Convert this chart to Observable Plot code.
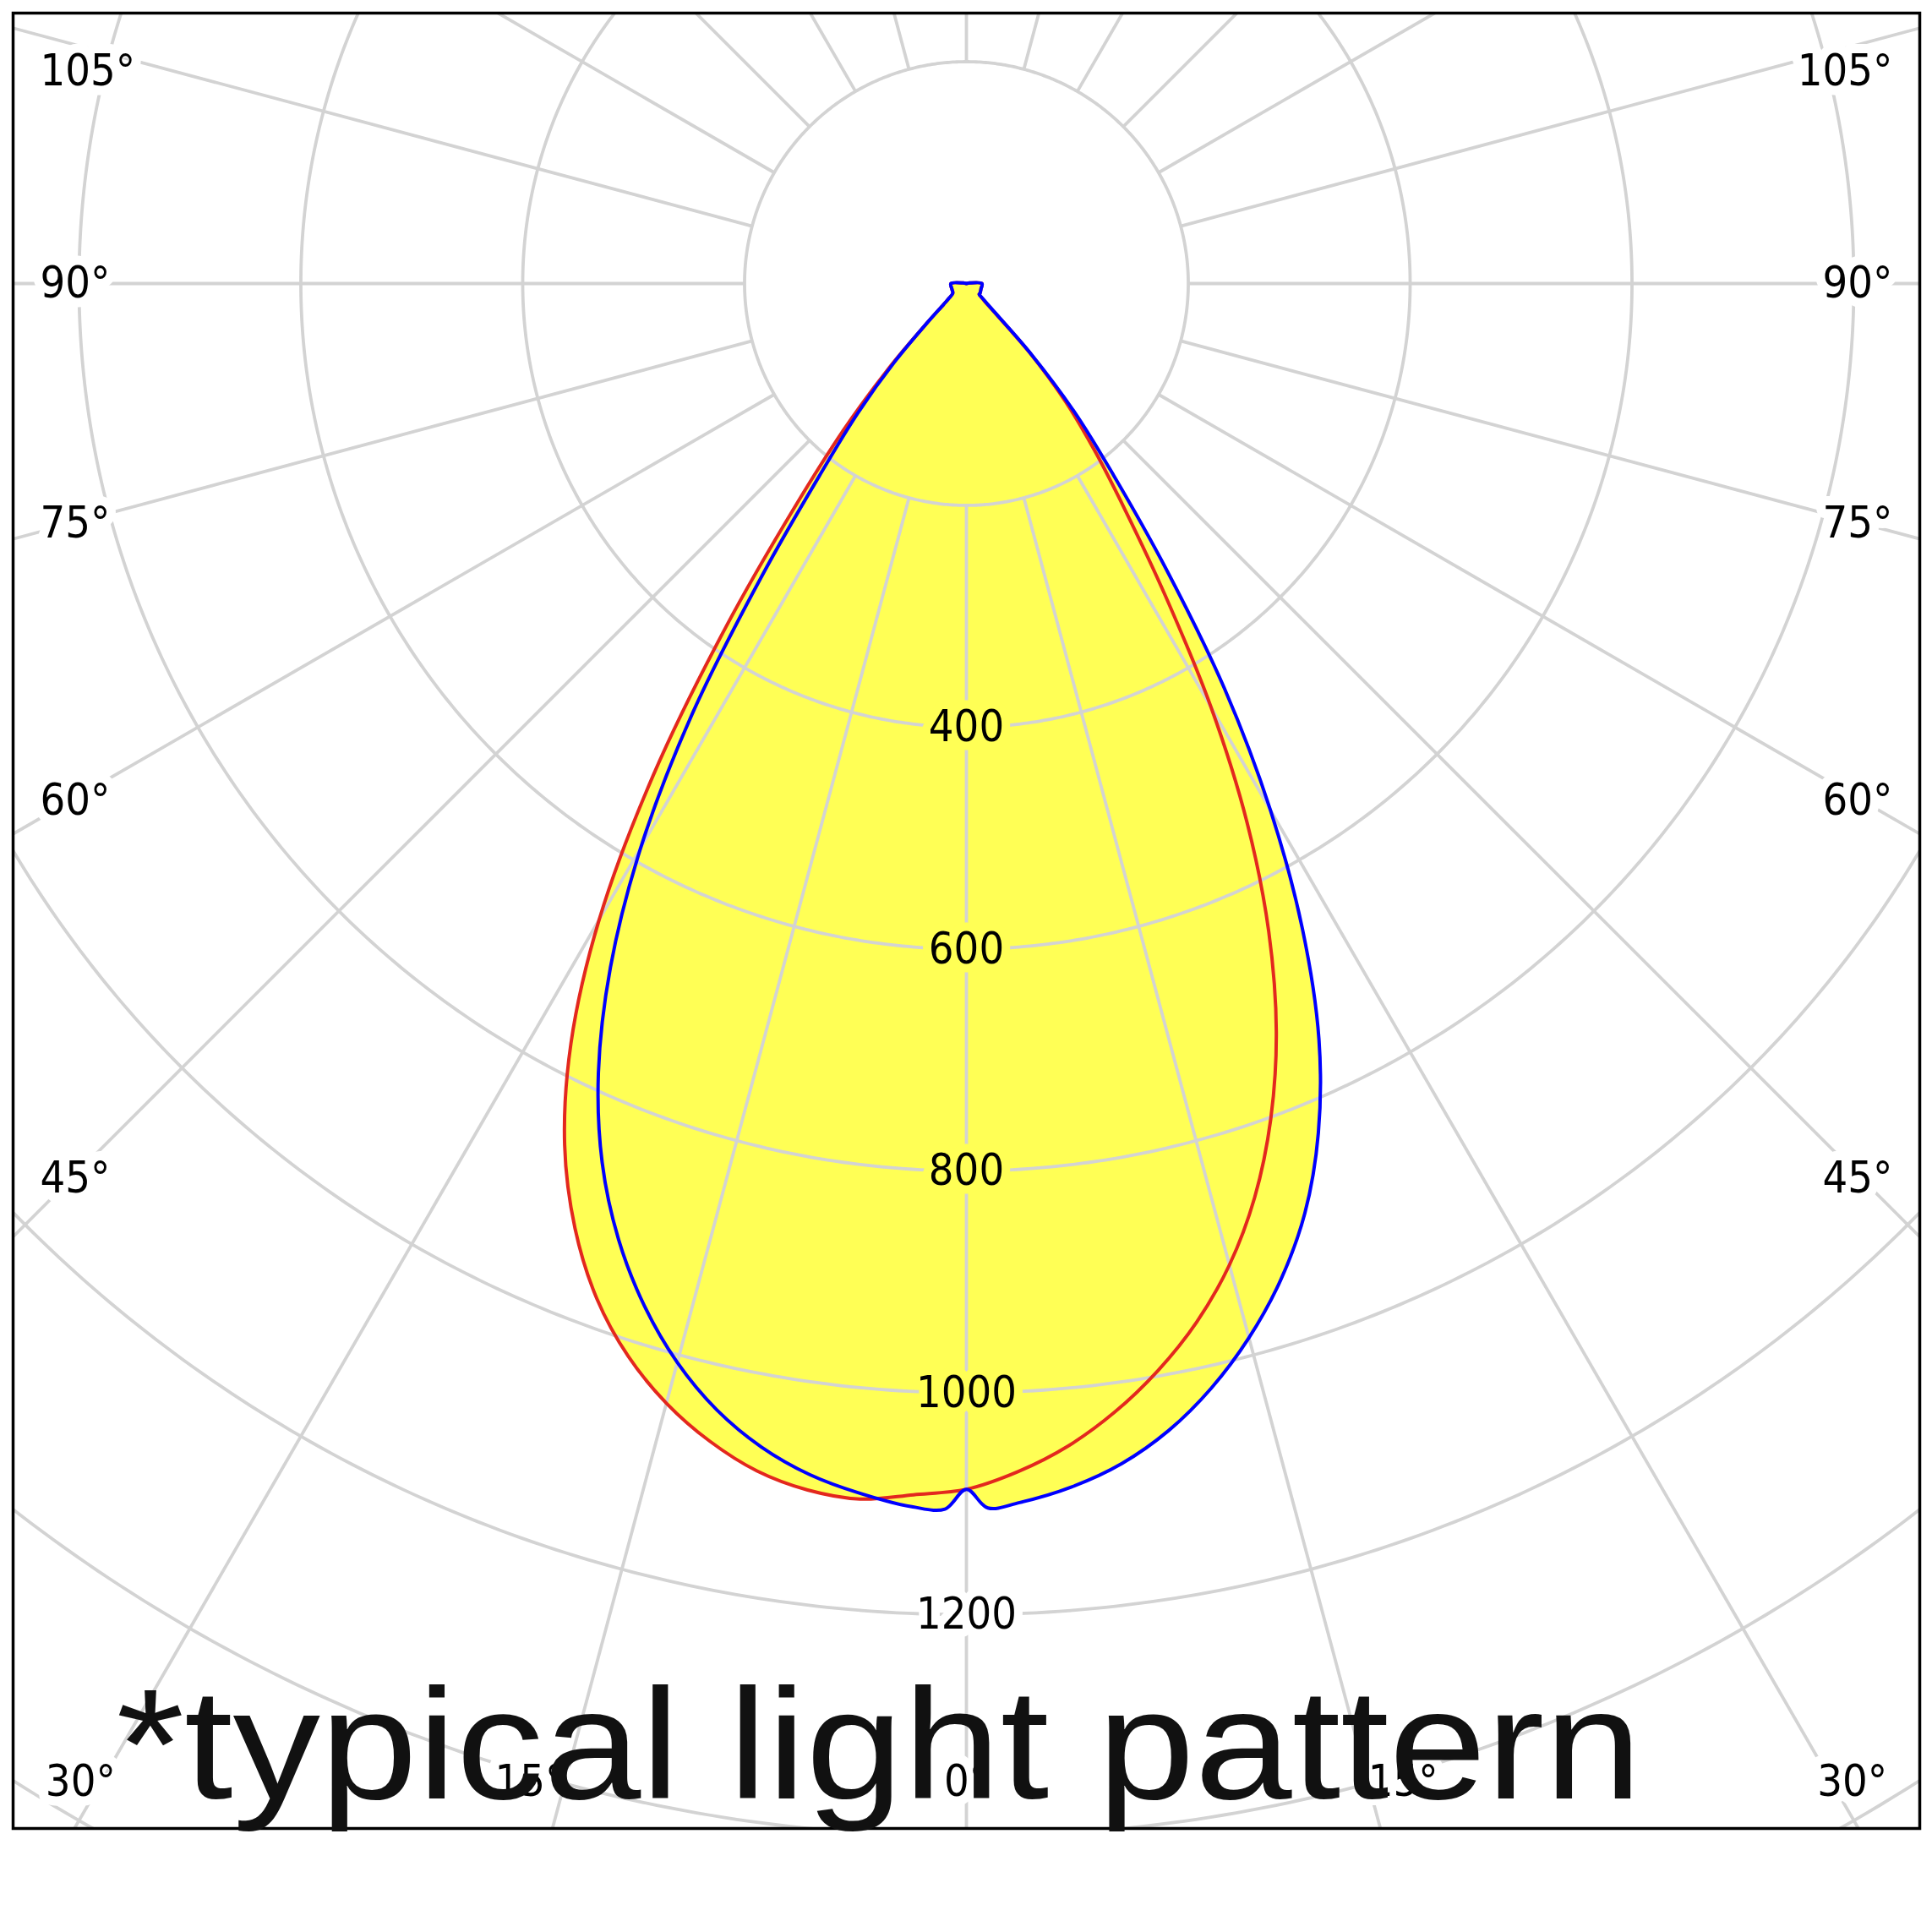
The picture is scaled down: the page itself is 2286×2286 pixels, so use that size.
<!DOCTYPE html>
<html><head><meta charset="utf-8">
<script src="https://cdn.jsdelivr.net/npm/d3@7"></script>
<script src="https://cdn.jsdelivr.net/npm/@observablehq/plot@0.6"></script>
<style>html,body{margin:0;padding:0;background:#fff;}</style>
</head><body><div id="chart"></div>
<script>
// ---- grid / label data ----
const ringValues = [200, 400, 600, 800, 1000, 1200, 1400, 1600];
const ringLabelValues = [400, 600, 800, 1000, 1200];
const spokeAngles = d3.range(0, 360, 15);
const sideLabelAngles = [45, 60, 75, 90, 105];
const bottomLeftAngles = [15, 30];
const bottomCenterAngles = [0];
const bottomRightAngles = [15, 30];

// ---- intensity curves (angle from nadir in degrees, value) ----
const redAngles       = [0, 2.5, 5, 7.5, 10, 12.5, 15, 17.5, 20, 22.5, 25, 27.5, 30, 32.5, 35, 37.5, 40, 42.5, 45, 47.5, 50, 55, 70, 90, 100, 120, 180];
const redLeftValues   = [1087, 1093, 1100, 1097, 1087, 1069, 1045, 1014, 974, 922, 857, 772, 662, 525, 378, 255, 172, 104, 50, 28, 20, 15, 14, 14, 3, 0, 0];
const redRightValues  = [1087, 1072, 1052, 1026, 995, 959, 916, 864, 802, 730, 645, 548, 441, 334, 250, 190, 139, 84, 28, 18, 15, 15, 14, 14, 3, 0, 0];
const blueAngles      = [0, 1, 2.5, 5, 7.5, 10, 12.5, 15, 17.5, 20, 22.5, 25, 27.5, 30, 32.5, 35, 37.5, 40, 42.5, 45, 47.5, 50, 55, 70, 90, 100, 120, 180];
const blueLeftValues  = [1087, 1105, 1104, 1095, 1083, 1065, 1040, 1007, 966, 917, 858, 785, 695, 587, 460, 320, 215, 152, 96, 50, 28, 20, 15, 14, 14, 3, 0, 0];
const blueRightValues = [1087, 1104, 1100, 1089, 1073, 1050, 1020, 984, 942, 892, 829, 752, 656, 548, 433, 313, 218, 153, 87, 32, 19, 15, 15, 14, 14, 3, 0, 0];

const captionText = "*typical light pattern";

// ---- styles ----
const FILL = "#ffff55", GRID = "#d3d3d3", RED = "#e3281e", BLUE = "#0000ff";
const LABEL_FONT = "'DejaVu Sans Condensed', 'DejaVu Sans', sans-serif";
const rad = d => d * Math.PI / 180;

function half(angles, values, side) {
  return angles.map((a, i) => ({x: side * values[i] * Math.sin(rad(a)), y: values[i] * Math.cos(rad(a))}));
}
function closed(angles, lv, rv) {
  return half(angles, lv, -1).reverse().concat(half(angles, rv, 1).slice(1));
}
const redShape = closed(redAngles, redLeftValues, redRightValues);
const blueShape = closed(blueAngles, blueLeftValues, blueRightValues);
const peak0 = redLeftValues[0];

const ringPts = ringValues.flatMap(r => d3.range(0, 360.5, 0.5).map(a => ({r, x: r * Math.sin(rad(a)), y: r * Math.cos(rad(a))})));

// label placement (layout constants, data units)
const SIDE_X = 835, SIDE_REACH = 807, TOP_LIMIT = -191, BOTTOM_Y = 1351, BOTTOM_LIMIT = 767;
const sideY = a => Math.max(TOP_LIMIT, SIDE_REACH * Math.cos(rad(a)) / Math.sin(rad(a)));
const bottomX = a => Math.min(BOTTOM_LIMIT, BOTTOM_Y * Math.tan(rad(a)));
const labelStyle = {fontSize: 52, fontFamily: LABEL_FONT, fill: "black", stroke: "white", strokeWidth: 22, strokeLinejoin: "round", paintOrder: "stroke"};

const chart = Plot.plot({
  width: 2286, height: 2286,
  marginTop: 15, marginLeft: 15, marginRight: 15, marginBottom: 123,
  x: {domain: [-859.4, 859.4], axis: null},
  y: {domain: [-243.8, 1392.8], reverse: true, axis: null},
  style: {background: "white"},
  marks: [
    Plot.line(redShape, {x: "x", y: "y", fill: FILL, stroke: "none", curve: "catmull-rom"}),
    Plot.line(blueShape, {x: "x", y: "y", fill: FILL, stroke: "none", curve: "catmull-rom"}),
    Plot.line(ringPts, {x: "x", y: "y", z: "r", stroke: GRID, strokeWidth: 3.8, clip: true}),
    Plot.link(spokeAngles, {
      x1: a => 200 * Math.sin(rad(a)), y1: a => 200 * Math.cos(rad(a)),
      x2: a => 2400 * Math.sin(rad(a)), y2: a => 2400 * Math.cos(rad(a)),
      stroke: GRID, strokeWidth: 3.8, clip: true
    }),
    Plot.text(ringLabelValues, {x: 0, y: d => d, text: d => String(d), ...labelStyle,
      stroke: d => d < peak0 ? FILL : "white", strokeWidth: 20}),
    Plot.text(sideLabelAngles, {x: -SIDE_X, y: sideY, text: a => a + "°", textAnchor: "start", ...labelStyle}),
    Plot.text(sideLabelAngles, {x: SIDE_X, y: sideY, text: a => a + "°", textAnchor: "end", ...labelStyle}),
    Plot.text(bottomLeftAngles, {x: a => -bottomX(a), y: BOTTOM_Y, text: a => a + "°", textAnchor: "end", ...labelStyle}),
    Plot.text(bottomCenterAngles, {x: a => bottomX(a), y: BOTTOM_Y, text: a => a + "°", textAnchor: "middle", ...labelStyle}),
    Plot.text(bottomRightAngles, {x: a => bottomX(a), y: BOTTOM_Y, text: a => a + "°", textAnchor: "start", ...labelStyle}),
    Plot.line(redShape, {x: "x", y: "y", stroke: RED, strokeWidth: 4, curve: "catmull-rom"}),
    Plot.line(blueShape, {x: "x", y: "y", stroke: BLUE, strokeWidth: 4, curve: "catmull-rom"}),
    Plot.frame({stroke: "black", strokeWidth: 3.5}),
    Plot.text([captionText], {frameAnchor: "bottom-left", textAnchor: "start", lineAnchor: "bottom",
      dx: 122, dy: -36, fontSize: 186, fontFamily: "'Liberation Sans', Arial, sans-serif", fill: "#111"})
  ]
});
document.getElementById("chart").appendChild(chart);
chart.querySelectorAll("text").forEach(t => {
  if (t.textContent.trim() === captionText) {
    t.setAttribute("textLength", "1805");
    t.setAttribute("lengthAdjust", "spacingAndGlyphs");
  }
});
</script>
</body></html>
